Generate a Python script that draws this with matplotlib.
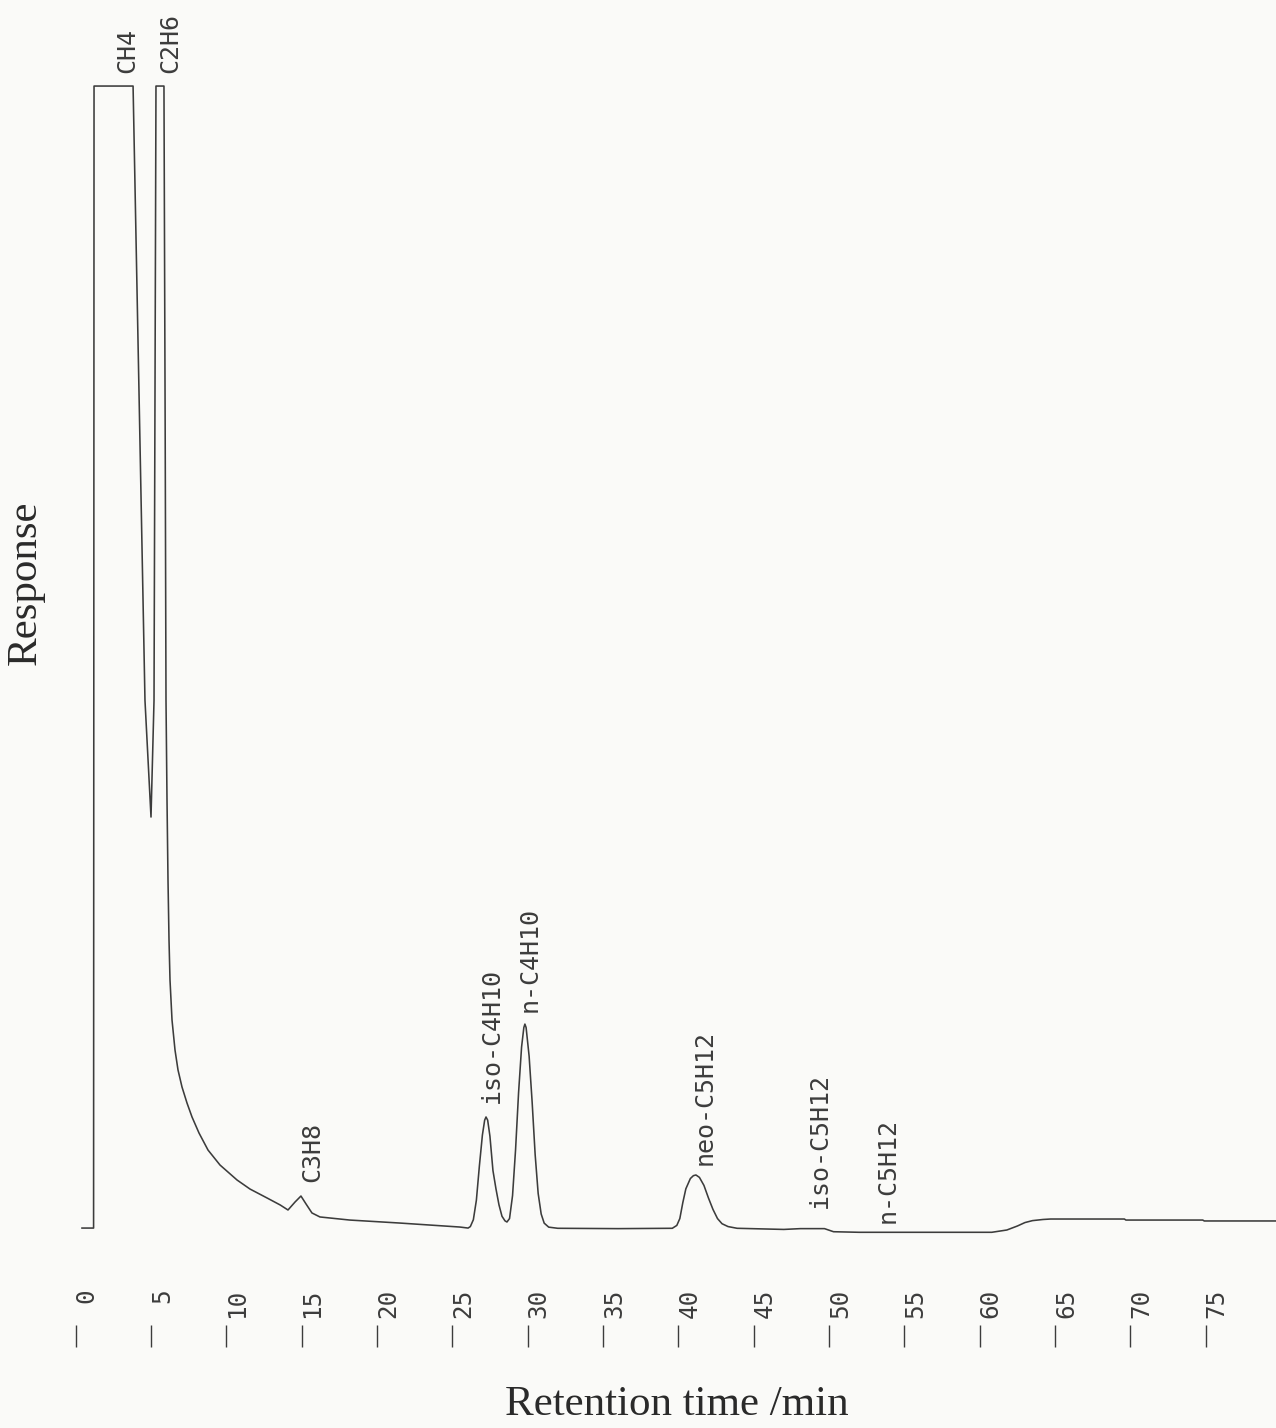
import matplotlib
matplotlib.use("Agg")
import matplotlib.pyplot as plt
import matplotlib.transforms as mtransforms

# chromatogram trace, time in min, response in % of full scale (100 = detector saturated)
time_min = [0.43, 1.20, 1.23, 3.82, 4.61, 5.01, 5.21, 5.34, 5.87, 5.95,
            6.005, 6.072, 6.138, 6.205, 6.271, 6.404, 6.603, 6.802, 7.067, 7.399,
            7.731, 8.195, 8.793, 9.589, 10.72, 11.58, 12.71, 13.58, 14.10,
            14.57, 14.96, 15.30, 15.69, 16.22, 18.20, 21.50, 25.50, 26.05,
            26.20, 26.40, 26.60, 26.80, 27.00, 27.15, 27.24, 27.35, 27.50, 27.70,
            27.90, 28.10, 28.30, 28.50, 28.63, 28.80, 29.00, 29.20, 29.40, 29.60,
            29.75, 29.82, 29.90, 30.10, 30.30, 30.50, 30.70, 30.90, 31.10, 31.40,
            32.00, 36.00, 39.60, 39.90, 40.10, 40.30, 40.50, 40.80, 41.00, 41.17,
            41.40, 41.70, 42.00, 42.30, 42.60, 42.90, 43.30, 43.90, 47.00, 48.10,
            49.70, 50.30, 52.00, 60.80, 61.80, 62.50, 63.00, 63.50, 64.20, 64.70,
            69.60, 69.70, 74.80, 74.90, 79.70]
response = [0.17, 0.17, 100, 100, 46.3, 36.1, 46.3, 100, 100, 70,
            46.33, 37.59, 30.59, 25.35, 21.85, 18.36, 15.73, 13.99, 12.5, 11.1,
            9.88, 8.48, 6.99, 5.68, 4.37, 3.58, 2.80, 2.19, 1.75,
            2.45, 2.97, 2.27, 1.49, 1.14, 0.87, 0.61, 0.26, 0.17,
            0.3, 0.9, 2.6, 5.6, 8.3, 9.6, 9.88, 9.6, 8.2, 5.2,
            3.6, 2.2, 1.2, 0.8, 0.70, 1.0, 3.0, 7.0, 12.0, 16.0,
            17.7, 18.0, 17.7, 15.2, 11.2, 6.6, 3.2, 1.4, 0.6, 0.25,
            0.15, 0.12, 0.15, 0.4, 1.0, 2.4, 3.6, 4.5, 4.75, 4.81,
            4.6, 3.9, 2.8, 1.8, 1.0, 0.55, 0.3, 0.15, 0.05, 0.12,
            0.12, -0.15, -0.2, -0.2, 0.0, 0.35, 0.65, 0.82, 0.92, 0.96,
            0.96, 0.87, 0.87, 0.79, 0.79]

# peak names and where the printer put them
peak_names = ["CH4", "C2H6", "C3H8", "iso-C4H10", "n-C4H10", "neo-C5H12",
              "iso-C5H12", "n-C5H12"]
peak_label_t = [3.42, 6.27, 15.69, 27.64, 30.16, 41.77, 49.40, 53.90]
peak_label_r = [101.1, 101.1, 4.2, 11.1, 19.06, 5.68, 1.92, 0.61]

ticks = [0, 5, 10, 15, 20, 25, 30, 35, 40, 45, 50, 55, 60, 65, 70, 75]

ink = "#3c3c3c"
mono = "DejaVu Sans Mono"
serif = "Liberation Serif"

fig = plt.figure(figsize=(12.76, 14.28), dpi=100, facecolor="#fafaf8")
ax = fig.add_axes([0.05917, 0.13165, 0.9413, 0.8121])
ax.set_facecolor("none")

ax.plot(time_min, response, color=ink, lw=1.15, clip_on=False)
ax.set_xlim(0, 79.7)
ax.set_ylim(-0.874, 100.5)

for s in ax.spines.values():
    s.set_visible(False)
ax.set_yticks([])

# tick numbers sit above a short dash, like the recorder print-out
ax.set_xticks(ticks)
ax.set_xticklabels([str(t) for t in ticks], rotation=90, fontsize=17.5,
                   family=mono, color=ink)
ax.tick_params(axis="x", length=0, pad=35)
shift = mtransforms.ScaledTranslation(11 / 100, 0, fig.dpi_scale_trans)
for lab in ax.get_xticklabels():
    lab.set_transform(lab.get_transform() + shift)
ax.vlines(ticks, -0.0733, -0.0923, transform=ax.get_xaxis_transform(),
          color=ink, lw=1.0, clip_on=False)

for name, t, r in zip(peak_names, peak_label_t, peak_label_r):
    ax.text(t, r, name, rotation=90, ha="center", va="bottom", fontsize=18,
            family=mono, color=ink, clip_on=False)

ax.set_xlabel("Retention time /min", fontsize=31, family=serif, color="#2a2a2a")
ax.xaxis.set_label_coords(0.501, -0.1423)
ax.xaxis.label.set_va("center")
ax.set_ylabel("Response", fontsize=31, family=serif, color="#2a2a2a")
ax.yaxis.set_label_coords(-0.042, 0.5665)
ax.yaxis.label.set_va("center")

fig.savefig("out.png", dpi=100, facecolor=fig.get_facecolor())
